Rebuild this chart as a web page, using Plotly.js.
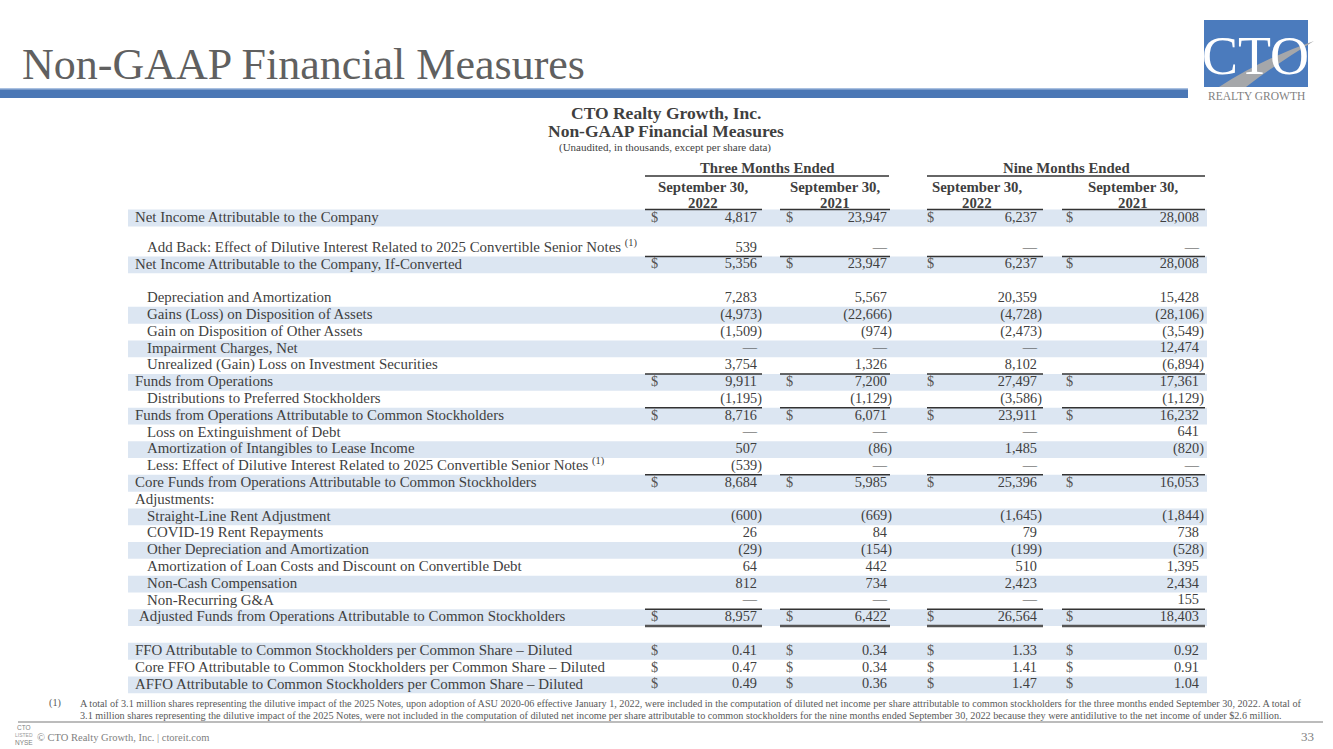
<!DOCTYPE html>
<html><head><meta charset="utf-8">
<script src="https://cdn.plot.ly/plotly-3.0.1.min.js"></script>
<style>html,body{margin:0;padding:0;background:#fff}#chart{width:1333px;height:749px}</style>
</head><body><div id="chart"></div>
<script>
// ---------------- DATA ----------------
const slideTitle = 'Non-GAAP Financial Measures';
const tableTitle = 'CTO Realty Growth, Inc.';
const tableSubtitle = 'Non-GAAP Financial Measures';
const tableNote = '(Unaudited, in thousands, except per share data)';
const periodGroups = ['Three Months Ended', 'Nine Months Ended'];
const columnHeaders = ['September 30,<br>2022', 'September 30,<br>2021', 'September 30,<br>2022', 'September 30,<br>2021'];

const rowLabels = [
  'Net Income Attributable to the Company',
  '',
  'Add Back: Effect of Dilutive Interest Related to 2025 Convertible Senior Notes <sup>(1)</sup>',
  'Net Income Attributable to the Company, If-Converted',
  '',
  'Depreciation and Amortization',
  'Gains (Loss) on Disposition of Assets',
  'Gain on Disposition of Other Assets',
  'Impairment Charges, Net',
  'Unrealized (Gain) Loss on Investment Securities',
  'Funds from Operations',
  'Distributions to Preferred Stockholders',
  'Funds from Operations Attributable to Common Stockholders',
  'Loss on Extinguishment of Debt',
  'Amortization of Intangibles to Lease Income',
  'Less: Effect of Dilutive Interest Related to 2025 Convertible Senior Notes <sup>(1)</sup>',
  'Core Funds from Operations Attributable to Common Stockholders',
  'Adjustments:',
  'Straight-Line Rent Adjustment',
  'COVID-19 Rent Repayments',
  'Other Depreciation and Amortization',
  'Amortization of Loan Costs and Discount on Convertible Debt',
  'Non-Cash Compensation',
  'Non-Recurring G&A',
  'Adjusted Funds from Operations Attributable to Common Stockholders',
  '',
  'FFO Attributable to Common Stockholders per Common Share – Diluted',
  'Core FFO Attributable to Common Stockholders per Common Share – Diluted',
  'AFFO Attributable to Common Stockholders per Common Share – Diluted'
];
// null = "—" ; undefined = blank row
const threeMonths2022 = [4817, undefined, 539, 5356, undefined, 7283, -4973, -1509, null, 3754, 9911, -1195, 8716, null, 507, -539, 8684, undefined, -600, 26, -29, 64, 812, null, 8957, undefined, 0.41, 0.47, 0.49];
const threeMonths2021 = [23947, undefined, null, 23947, undefined, 5567, -22666, -974, null, 1326, 7200, -1129, 6071, null, -86, null, 5985, undefined, -669, 84, -154, 442, 734, null, 6422, undefined, 0.34, 0.34, 0.36];
const nineMonths2022 = [6237, undefined, null, 6237, undefined, 20359, -4728, -2473, null, 8102, 27497, -3586, 23911, null, 1485, null, 25396, undefined, -1645, 79, -199, 510, 2423, null, 26564, undefined, 1.33, 1.41, 1.47];
const nineMonths2021 = [28008, undefined, null, 28008, undefined, 15428, -28106, -3549, 12474, -6894, 17361, -1129, 16232, 641, -820, null, 16053, undefined, -1844, 738, -528, 1395, 2434, 155, 18403, undefined, 0.92, 0.91, 1.04];
const dollarRows = [0, 3, 10, 12, 16, 24, 26, 27, 28];
const perShareRows = [26, 27, 28];

const footnoteMark = '(1)';
const footnoteLines = [
  'A total of 3.1 million shares representing the dilutive impact of the 2025 Notes, upon adoption of ASU 2020-06 effective January 1, 2022, were included in the computation of diluted net income per share attributable to common stockholders for the three months ended September 30, 2022. A total of',
  '3.1 million shares representing the dilutive impact of the 2025 Notes, were not included in the computation of diluted net income per share attributable to common stockholders for the nine months ended September 30, 2022 because they were antidilutive to the net income of under $2.6 million.'
];
const footerText = '© CTO Realty Growth, Inc. | ctoreit.com';
const pageNumber = '33';

// ---------------- STYLE / LAYOUT ----------------
const W = 1333, H = 749;
const ROW0 = 218, RH = 16.8;           // pixel centre of row 0 and row height
const rowOf = p => (p - ROW0) / RH;    // pixel -> row units (decorations only)
// relative row heights (the first spacer row is a little shorter)
const rowHeights = rowLabels.map((l, i) => i === 1 ? 0.79 : 1);
const rowCenter = [];
rowHeights.reduce((acc, h, i) => { rowCenter.push(acc + h / 2 - rowHeights[0] / 2); return acc + h; }, 0);

const SERIF = '"Liberation Serif", "Times New Roman", serif';
const TXT = '#3f3f3f';
const STRIPE = '#dce6f2';
const BLUE = '#4a77b5';
const cols = [
  {dollar: 651, right: 757, line: [645, 762], head: 703},
  {dollar: 786, right: 887, line: [780, 890], head: 835},
  {dollar: 927, right: 1037, line: [927, 1043], head: 977},
  {dollar: 1066, right: 1199, line: [1062, 1205], head: 1133}
];
const HANG = 5;
const groupSpans = [[645, 889], [927, 1205]];
const stripeRows = [0, 3, 6, 8, 10, 12, 14, 16, 18, 20, 22, 24, 26, 28];
const rulesAbove = [0, 3, 10, 12, 16, 24];
const rowLevel = [0,0,1,0,0,1,1,1,1,1,0,1,0,1,1,1,0,0,1,1,1,1,1,1,2,0,0,0,0];
const levelX = [135, 147, 139];
const rowTop = i => rowCenter[i] - rowHeights[i] / 2;
const rowBot = i => rowCenter[i] + rowHeights[i] / 2;

function fmt(v, perShare) {
  if (v === null) return '—';
  const a = Math.abs(v);
  const s = perShare ? a.toFixed(2) : a.toLocaleString('en-US');
  return v < 0 ? '(' + s + ')' : s;
}

// ---------------- TRACES ----------------
const traces = [];
const series = [threeMonths2022, threeMonths2021, nineMonths2022, nineMonths2021];
const labelIdx = rowLabels.map((l, i) => i).filter(i => rowLabels[i] !== '');
traces.push({
  type: 'scatter', mode: 'text', hoverinfo: 'skip', showlegend: false,
  x: labelIdx.map(i => levelX[rowLevel[i]]), y: labelIdx.map(i => rowCenter[i]),
  text: labelIdx.map(i => rowLabels[i]), textposition: 'middle right',
  textfont: {family: SERIF, size: 14.9, color: TXT}
});
series.forEach((vals, c) => {
  const idx = vals.map((v, i) => i).filter(i => vals[i] !== undefined);
  traces.push({
    type: 'scatter', mode: 'text', hoverinfo: 'skip', showlegend: false,
    x: idx.map(i => cols[c].right + (vals[i] !== null && vals[i] < 0 ? HANG : 0)),
    y: idx.map(i => rowCenter[i]),
    text: idx.map(i => fmt(vals[i], perShareRows.includes(i))),
    textposition: 'middle left',
    textfont: {family: SERIF, size: 14.3, color: TXT}
  });
  traces.push({
    type: 'scatter', mode: 'text', hoverinfo: 'skip', showlegend: false,
    x: dollarRows.map(() => cols[c].dollar), y: dollarRows.map(i => rowCenter[i]),
    text: dollarRows.map(() => '$'), textposition: 'middle right',
    textfont: {family: SERIF, size: 14.3, color: '#555'}
  });
});

// ---------------- SHAPES ----------------
const shapes = [];
stripeRows.forEach(r => shapes.push({type: 'rect', xref: 'x', yref: 'y', x0: 128, x1: 1207, y0: rowTop(r), y1: rowBot(r),
  fillcolor: STRIPE, line: {width: 0}, layer: 'below'}));
rulesAbove.forEach(r => cols.forEach(c => shapes.push({type: 'line', xref: 'x', yref: 'y', x0: c.line[0], x1: c.line[1], y0: rowTop(r), y1: rowTop(r),
  line: {color: '#333', width: 1.5}})));
cols.forEach(c => shapes.push({type: 'line', xref: 'x', yref: 'y', x0: c.line[0], x1: c.line[1], y0: rowBot(24), y1: rowBot(24),
  line: {color: '#555', width: 2.5}}));
groupSpans.forEach(g => shapes.push({type: 'line', xref: 'x', yref: 'y', x0: g[0], x1: g[1], y0: rowOf(176), y1: rowOf(176),
  line: {color: '#333', width: 1.5}}));
// top banner bar
shapes.push({type: 'rect', xref: 'x', yref: 'y', x0: 0, x1: 1188, y0: rowOf(89), y1: rowOf(98), fillcolor: BLUE, line: {width: 0}});
shapes.push({type: 'rect', xref: 'x', yref: 'y', x0: 0, x1: 1188, y0: rowOf(88), y1: rowOf(89.5), fillcolor: '#a9c0e0', line: {width: 0}});
// logo
shapes.push({type: 'rect', xref: 'x', yref: 'y', x0: 1204, x1: 1308, y0: rowOf(20), y1: rowOf(87), fillcolor: '#4b7bbd', line: {width: 0}});
const P = (x, p) => x + ',' + rowOf(p);
shapes.push({type: 'path', xref: 'x', yref: 'y', fillcolor: '#a5a7aa', line: {width: 0},
  path: 'M' + P(1219, 87) + ' Q' + P(1262, 59) + ' ' + P(1314, 41) + ' Q' + P(1276, 64) + ' ' + P(1246, 87) + ' Z'});
// footer rule
shapes.push({type: 'line', xref: 'x', yref: 'y', x0: 18, x1: 1323, y0: rowOf(722), y1: rowOf(722), line: {color: '#a6a6a6', width: 1.5}});

// ---------------- ANNOTATIONS ----------------
const ann = [];
const A = (text, x, p, o) => ann.push(Object.assign({text: text, x: x, y: rowOf(p), xref: 'x', yref: 'y', showarrow: false,
  xanchor: 'center', yanchor: 'middle', font: {family: SERIF, size: 14, color: TXT}}, o || {}));
A(slideTitle, 20, 64, {xanchor: 'left', font: {family: SERIF, size: 44, color: '#606060'}});
A('CTO', 1255, 56, {font: {family: SERIF, size: 54, color: '#ffffff'}});
A('REALTY GROWTH', 1256, 96, {font: {family: SERIF, size: 11.5, color: '#7f7f7f'}});
A('<b>' + tableTitle + '</b>', 666, 113, {font: {family: SERIF, size: 17.5, color: TXT}});
A('<b>' + tableSubtitle + '</b>', 666, 130.5, {font: {family: SERIF, size: 17.5, color: TXT}});
A(tableNote, 665, 147, {font: {family: SERIF, size: 11, color: TXT}});
A('<b>' + periodGroups[0] + '</b>', (groupSpans[0][0] + groupSpans[0][1]) / 2, 168, {font: {family: SERIF, size: 14.8, color: TXT}});
A('<b>' + periodGroups[1] + '</b>', (groupSpans[1][0] + groupSpans[1][1]) / 2, 168, {font: {family: SERIF, size: 14.8, color: TXT}});
columnHeaders.forEach((h, c) => {
  const parts = h.split('<br>');
  A('<b>' + parts[0] + '</b>', cols[c].head, 186.5, {font: {family: SERIF, size: 14.8, color: TXT}});
  A('<b>' + parts[1] + '</b>', cols[c].head, 202.5, {font: {family: SERIF, size: 14.8, color: TXT}});
});
A(footnoteMark, 47, 703, {xanchor: 'left', font: {family: SERIF, size: 10.2, color: '#595959'}});
footnoteLines.forEach((l, i) => A(l, 78, 703 + i * 12, {xanchor: 'left', font: {family: SERIF, size: 10.2, color: '#595959'}}));
A(footerText, 35, 737, {xanchor: 'left', font: {family: SERIF, size: 10.5, color: '#7f7f7f'}});
A(pageNumber, 1316, 736, {xanchor: 'right', font: {family: SERIF, size: 13, color: '#7f7f7f'}});
A('CTO', 24, 727, {font: {family: 'Liberation Sans, sans-serif', size: 6.5, color: '#7f7f7f'}});
A('LISTED', 24, 735, {font: {family: 'Liberation Sans, sans-serif', size: 5, color: '#9a9a9a'}});
A('NYSE', 24, 742, {font: {family: 'Liberation Sans, sans-serif', size: 6.5, color: '#7f7f7f'}});

const layout = {
  width: W, height: H, margin: {l: 0, r: 0, t: 0, b: 0},
  paper_bgcolor: '#ffffff', plot_bgcolor: '#ffffff',
  xaxis: {range: [0, W], showgrid: false, zeroline: false, showticklabels: false, showline: false, ticks: '', fixedrange: true},
  yaxis: {range: [(H - ROW0) / RH, -ROW0 / RH], showgrid: false, zeroline: false, showticklabels: false, showline: false, ticks: '', fixedrange: true},
  shapes: shapes, annotations: ann, showlegend: false
};
Plotly.newPlot('chart', traces, layout, {displayModeBar: false, staticPlot: true});
</script></body></html>
